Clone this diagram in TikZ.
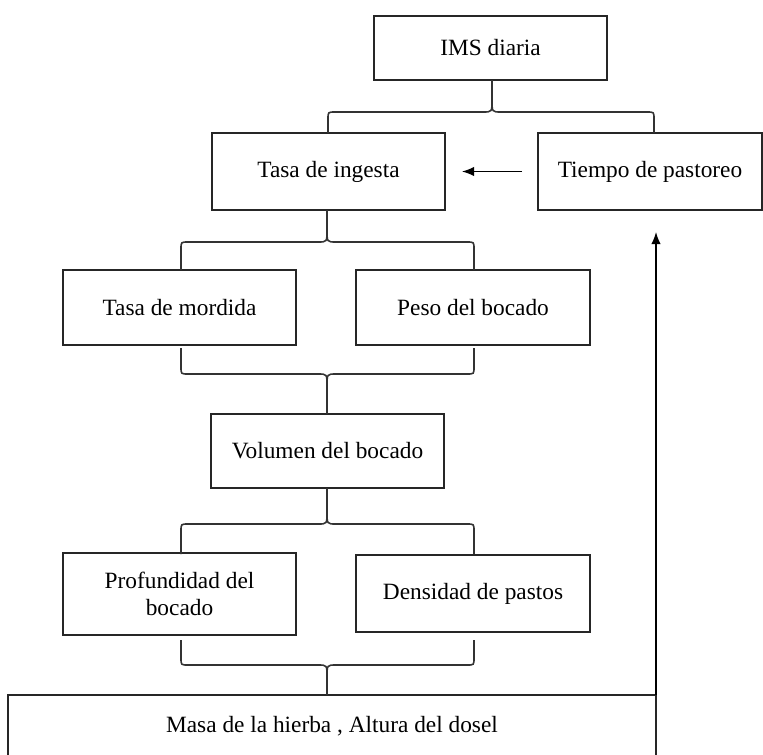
\documentclass[tikz,border=0pt]{standalone}
\usepackage{fontspec}
\setmainfont{Liberation Serif}
\usetikzlibrary{arrows.meta}
\tikzset{
  box/.style={draw=black!85, line width=1.1pt, inner sep=0pt, outer sep=0pt, align=center,
    font=\fontsize{17.5}{20}\selectfont},
  wh/.style 2 args={minimum width=#1*0.75pt, minimum height=#2*0.75pt},
  brc/.style={draw=black!80, line width=1.2pt},
  arr/.style={draw=black, line width=1pt, -{Latex[length=9pt,width=7pt]}}
}
% cusp up, ends down: L C R yh ycusp yend
\newcommand\bracecusptop[6]{%
  \draw[brc] (#1,#6) -- (#1,#4+7) .. controls (#1,#4) .. (#1+7,#4) -- (#2-9,#4)
     .. controls (#2,#4) .. (#2,#4-12) -- (#2,#5)
     (#2,#4-12) .. controls (#2,#4) .. (#2+9,#4) -- (#3-7,#4)
     .. controls (#3,#4) .. (#3,#4+7) -- (#3,#6);}
% cusp down, ends up: L C R yh ycusp yend
\newcommand\bracecuspbot[6]{%
  \draw[brc] (#1,#6) -- (#1,#4-7) .. controls (#1,#4) .. (#1+7,#4) -- (#2-9,#4)
     .. controls (#2,#4) .. (#2,#4+12) -- (#2,#5)
     (#2,#4+12) .. controls (#2,#4) .. (#2+9,#4) -- (#3-7,#4)
     .. controls (#3,#4) .. (#3,#4-7) -- (#3,#6);}
\begin{document}
\begin{tikzpicture}[x=0.75pt,y=-0.75pt]
\useasboundingbox (0,0) rectangle (763,754);
\clip (0,0) rectangle (763,754);

\node[box, wh={233}{64}] (ims) at (490.5,48) {IMS diaria};
\node[box, wh={233}{77}] (ing) at (328.5,171.5) {Tasa de ingesta};
\node[box, wh={224}{77}] (tie) at (650,171.5) {Tiempo de pastoreo};
\node[box, wh={233}{75}] (mor) at (179.5,307.5) {Tasa de mordida};
\node[box, wh={234}{75}] (pes) at (473,307.5) {Peso del bocado};
\node[box, wh={233}{74}] (vol) at (327.5,451) {Volumen del bocado};
\node[box, wh={233}{82}] (pro) at (179.5,594) {Profundidad del\\bocado};
\node[box, wh={234}{77}] (den) at (473,593.5) {Densidad de pastos};
\node[box, wh={648}{63}] (mas) at (332,726.5) {Masa de la hierba , Altura del dosel};

\bracecusptop{328}{492}{654}{112}{80}{133}
\bracecusptop{181}{327}{474}{242}{210}{270}
\bracecuspbot{181}{327}{474}{374}{414}{348}
\bracecusptop{181}{327}{474}{524}{488}{554}
\bracecuspbot{181}{327}{474}{665}{695}{640}

\draw[arr, shorten <=12pt, shorten >=12.75pt] (tie.west) -- (tie.west -| ing.east);
\draw[arr, shorten >=16.5pt] (mas.north east) -- (mas.north east |- tie.south);
\end{tikzpicture}
\end{document}
